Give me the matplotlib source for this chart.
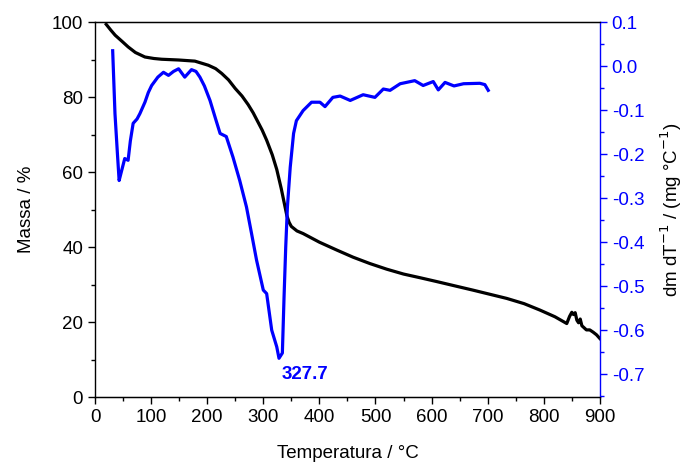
import numpy as np
import matplotlib.pyplot as plt
from matplotlib.ticker import MultipleLocator

plt.rcParams['font.family'] = ['Liberation Sans', 'DejaVu Sans']

# TG curve (mass %)
temp_tg = [20, 28, 36, 48, 59, 72, 89, 105, 119, 149, 178, 202, 215, 226, 238,
           250, 262, 273, 282, 290, 298, 306, 316, 324, 332, 337, 342, 346,
           350, 360, 371, 400, 431, 460, 490, 520, 550, 580, 609, 640, 674,
           704, 734, 765, 793, 820, 841, 846, 850, 853, 856, 859, 862, 865,
           868, 871, 876, 882, 888, 894, 900]
mass = [99.4, 97.9, 96.5, 94.9, 93.4, 91.9, 90.7, 90.3, 90.1, 89.9, 89.6, 88.5,
        87.6, 86.3, 84.6, 82.3, 80.3, 78, 75.8, 73.5, 71.2, 68.5, 64.6, 60.7,
        55.6, 52.0, 48.4, 46.6, 45.5, 44.3, 43.6, 41.3, 39.2, 37.3, 35.6, 34.1,
        32.8, 31.8, 30.8, 29.7, 28.5, 27.4, 26.3, 24.9, 23.2, 21.4, 19.6, 21.5,
        22.6, 22.0, 22.5, 20.5, 19.8, 20.8, 19.0, 18.6, 17.9, 17.9, 17.3, 16.6,
        15.6]

# DTG curve
temp_dtg = [31.5, 35.6, 40, 43, 47, 53, 59, 63, 68, 75, 80, 89, 95, 101, 112,
            122, 131, 140, 149, 160, 172, 180, 187, 195, 205, 215, 223, 234,
            246, 258, 270, 279, 288, 300, 306, 315, 324, 328, 334, 337, 340,
            343, 348, 354, 359, 371, 386, 401, 410, 424, 437, 455, 478, 499,
            514, 526, 544, 570, 585, 603, 612, 624, 640, 657, 686, 695, 701]
dtg = [0.035, -0.108, -0.2, -0.26, -0.24, -0.21, -0.214, -0.17, -0.13, -0.12,
       -0.108, -0.082, -0.06, -0.044, -0.025, -0.014, -0.021, -0.012, -0.006,
       -0.025, -0.008, -0.012, -0.025, -0.045, -0.078, -0.12, -0.153, -0.16,
       -0.207, -0.26, -0.32, -0.38, -0.441, -0.509, -0.517, -0.6, -0.638,
       -0.664, -0.652, -0.525, -0.411, -0.32, -0.23, -0.153, -0.124, -0.101,
       -0.082, -0.082, -0.092, -0.071, -0.068, -0.078, -0.065, -0.071, -0.052,
       -0.055, -0.04, -0.033, -0.044, -0.035, -0.054, -0.037, -0.045, -0.04,
       -0.039, -0.042, -0.055]

peak_label = '327.7'

blue = '#0000ff'
fs = 13.5

fig = plt.figure(figsize=(6.85, 4.68), dpi=100)
ax = fig.add_axes([0.1387, 0.1517, 0.737, 0.801])
ax2 = ax.twinx()

ax.plot(temp_tg, mass, color='black', lw=2.3, zorder=3)
ax2.plot(temp_dtg, dtg, color=blue, lw=2.3)

ax.set_xlim(0, 900)
ax.set_ylim(0, 100)
ax2.set_ylim(-0.752, 0.1)

ax.xaxis.set_major_locator(MultipleLocator(100))
ax.xaxis.set_minor_locator(MultipleLocator(50))
ax.yaxis.set_major_locator(MultipleLocator(20))
ax.yaxis.set_minor_locator(MultipleLocator(10))
ax2.yaxis.set_major_locator(MultipleLocator(0.1))
ax2.yaxis.set_minor_locator(MultipleLocator(0.05))
ax2.yaxis.set_major_formatter(lambda v, p: f'{v:.1f}'.replace('-0.0', '0.0'))

for a in (ax, ax2):
    a.tick_params(which='major', direction='out', length=5, width=1, labelsize=fs)
    a.tick_params(which='minor', direction='out', length=3, width=1)
ax.tick_params(top=False, right=False)
ax2.tick_params(axis='y', colors=blue, which='both')
ax2.spines['right'].set_color(blue)
ax2.spines['left'].set_visible(False)
ax.spines['right'].set_visible(False)
for s in ax.spines.values():
    s.set_linewidth(1)
ax2.spines['right'].set_linewidth(1)

ax.set_xlabel('Temperatura / °C', fontsize=fs, labelpad=14)
ax.set_ylabel('Massa / %', fontsize=fs, labelpad=12)
ax2.set_ylabel('dm dT$^{-1}$ / (mg °C$^{-1}$)', fontsize=fs, labelpad=10)

ax.text(333, 6, peak_label, color=blue, fontsize=fs, fontweight='bold',
        ha='left', va='center')

fig.savefig('out.png', dpi=100)
